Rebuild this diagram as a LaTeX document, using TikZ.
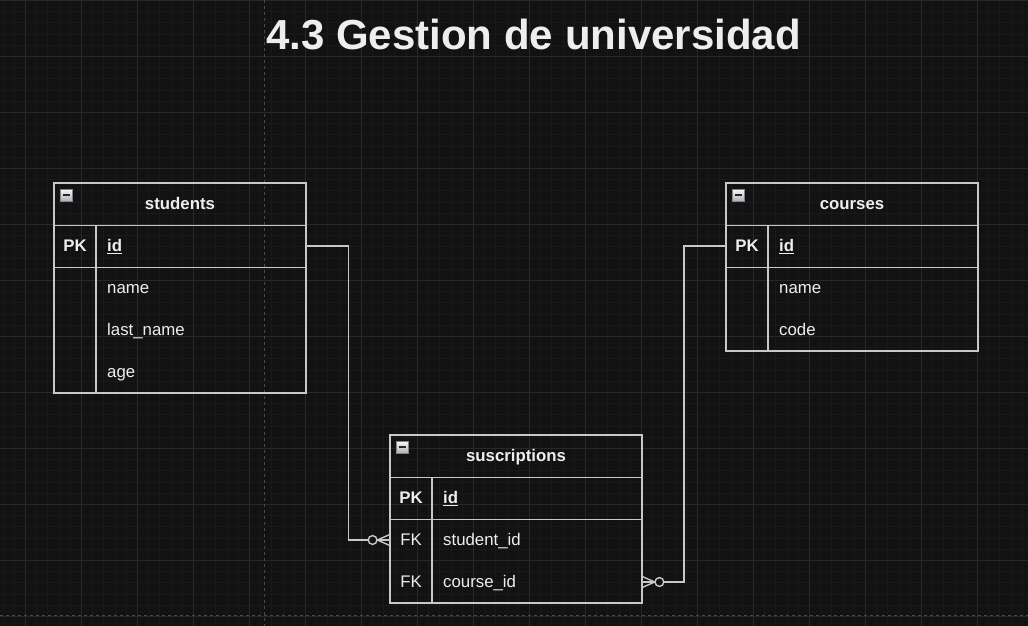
\documentclass[tikz,border=0pt]{standalone}
\usepackage{fontspec}
\setmainfont{Liberation Sans}
\usetikzlibrary{calc}
\definecolor{bgc}{HTML}{121212}
\definecolor{minorg}{HTML}{191919}
\definecolor{majorg}{HTML}{282828}
\definecolor{pagebr}{HTML}{4A4A4A}
\definecolor{lnc}{HTML}{C8C8C8}
\definecolor{txc}{HTML}{EEEEEE}
\definecolor{iconfill}{HTML}{C9CCD2}
\definecolor{iconedge}{HTML}{7E838D}
\tikzset{
  minorline/.style={draw=minorg, line width=0.7pt},
  majorline/.style={draw=majorg, line width=1pt},
  pagebreak/.style={draw=pagebr, line width=0.9pt, dash pattern=on 3pt off 3pt},
  ln/.style={draw=lnc, line width=1.4pt},
  tblbox/.style={draw=lnc, line width=1.4pt, minimum width=252pt, inner sep=0pt},
  rowbox/.style={minimum width=252pt, minimum height=42pt, inner sep=0pt},
  hdrtxt/.style={text=txc, font=\bfseries\fontsize{16.8}{20}\selectfont, anchor=base, inner sep=0pt},
  keytxt/.style={text=txc, font=\fontsize{16.8}{20}\selectfont, anchor=base, inner sep=0pt},
  keybold/.style={keytxt, font=\bfseries\fontsize{16.8}{20}\selectfont},
  fldtxt/.style={text=txc, font=\fontsize{16.8}{20}\selectfont, anchor=base west, inner sep=0pt},
  fldbold/.style={fldtxt, font=\bfseries\fontsize{16.8}{20}\selectfont},
  iconbox/.style={draw=iconedge, line width=0.8pt, top color=white!85!iconfill, bottom color=iconfill!85!black, minimum width=12.5pt, minimum height=12.5pt, inner sep=0pt},
  iconminus/.style={draw=black!85, line width=1.8pt},
  zerocircle/.style={draw=lnc, line width=1.4pt, fill=bgc},
}
\begin{document}
\begin{tikzpicture}[x=1pt,y=-1pt]
\fill[bgc] (0,0) rectangle (1028,626);
\useasboundingbox (0,0) rectangle (1028,626);
% grid
\foreach \i in {0,...,91} \draw[minorline] ({2.9+11.2*\i},0) -- ++(0,626);
\foreach \j in {0,...,55} \draw[minorline] (0,{0.3+11.2*\j}) -- ++(1028,0);
\foreach \i in {0,...,17} \draw[majorline] ({25.3+56*\i},0) -- ++(0,626);
\foreach \j in {0,...,11} \draw[majorline] (0,{0.3+56*\j}) -- ++(1028,0);
\draw[pagebreak] (264.5,0) -- (264.5,626);
\draw[pagebreak] (0,615.7) -- (1028,615.7);

% title
\node[text=txc, font=\bfseries\fontsize{42}{48}\selectfont, anchor=base, inner sep=0pt] (title) at (533.5,49.3) {4.3 Gestion de universidad};

% ---------- students ----------
\node[tblbox, minimum height=210pt] (students) at (180,288) {};
\node[rowbox] (s-h) at (180,204) {};
\node[rowbox] (s-id) at (180,246) {};
\node[rowbox] (s-name) at (180,288) {};
\node[rowbox] (s-last) at (180,330) {};
\node[rowbox] (s-age) at (180,372) {};
\draw[ln] (s-h.south west) -- (s-h.south east);
\draw[ln] (s-id.south west) -- (s-id.south east);
\draw[ln] (96,225) -- (96,393);
\node[iconbox] (s-icon) at (66.5,195.3) {};
\draw[iconminus] ($(s-icon.center)+(-3.5,0)$) -- ($(s-icon.center)+(3.5,0)$);
\node[hdrtxt] (s-htx) at (180,209.4) {students};
\node[keybold] (s-pk) at (75,251.4) {PK};
\node[fldbold] (s-idt) at (107,251.4) {\underline{id}};
\node[fldtxt] (s-namet) at (107,293.4) {name};
\node[fldtxt] (s-lastt) at (107,335.4) {last\_name};
\node[fldtxt] (s-aget) at (107,377.4) {age};

% ---------- courses ----------
\node[tblbox, minimum height=168pt] (courses) at (852,267) {};
\node[rowbox] (c-h) at (852,204) {};
\node[rowbox] (c-id) at (852,246) {};
\node[rowbox] (c-name) at (852,288) {};
\node[rowbox] (c-code) at (852,330) {};
\draw[ln] (c-h.south west) -- (c-h.south east);
\draw[ln] (c-id.south west) -- (c-id.south east);
\draw[ln] (768,225) -- (768,351);
\node[iconbox] (c-icon) at (738.5,195.3) {};
\draw[iconminus] ($(c-icon.center)+(-3.5,0)$) -- ($(c-icon.center)+(3.5,0)$);
\node[hdrtxt] (c-htx) at (852,209.4) {courses};
\node[keybold] (c-pk) at (747,251.4) {PK};
\node[fldbold] (c-idt) at (779,251.4) {\underline{id}};
\node[fldtxt] (c-namet) at (779,293.4) {name};
\node[fldtxt] (c-codet) at (779,335.4) {code};

% ---------- suscriptions ----------
\node[tblbox, minimum height=168pt] (susc) at (516,519) {};
\node[rowbox] (u-h) at (516,456) {};
\node[rowbox] (u-id) at (516,498) {};
\node[rowbox] (u-sid) at (516,540) {};
\node[rowbox] (u-cid) at (516,582) {};
\draw[ln] (u-h.south west) -- (u-h.south east);
\draw[ln] (u-id.south west) -- (u-id.south east);
\draw[ln] (432,477) -- (432,603);
\node[iconbox] (u-icon) at (402.5,447.3) {};
\draw[iconminus] ($(u-icon.center)+(-3.5,0)$) -- ($(u-icon.center)+(3.5,0)$);
\node[hdrtxt] (u-htx) at (516,461.4) {suscriptions};
\node[keybold] (u-pk) at (411,503.4) {PK};
\node[fldbold] (u-idt) at (443,503.4) {\underline{id}};
\node[keytxt] (u-fk1) at (411,545.4) {FK};
\node[fldtxt] (u-sidt) at (443,545.4) {student\_id};
\node[keytxt] (u-fk2) at (411,587.4) {FK};
\node[fldtxt] (u-cidt) at (443,587.4) {course\_id};

% ---------- connectors ----------
\draw[ln] (s-id.east) -- ++(42,0) |- (u-sid.west);
\draw[ln] ($(u-sid.west)+(-12.5,0)$) -- ($(u-sid.west)+(0,-5.5)$);
\draw[ln] ($(u-sid.west)+(-12.5,0)$) -- ($(u-sid.west)+(0,5.5)$);
\draw[zerocircle] ($(u-sid.west)+(-17.2,0)$) circle (4.4);

\draw[ln] (c-id.west) -- ++(-42,0) |- (u-cid.east);
\draw[ln] ($(u-cid.east)+(12.5,0)$) -- ($(u-cid.east)+(0,-5.5)$);
\draw[ln] ($(u-cid.east)+(12.5,0)$) -- ($(u-cid.east)+(0,5.5)$);
\draw[zerocircle] ($(u-cid.east)+(17.2,0)$) circle (4.4);
\end{tikzpicture}
\end{document}
